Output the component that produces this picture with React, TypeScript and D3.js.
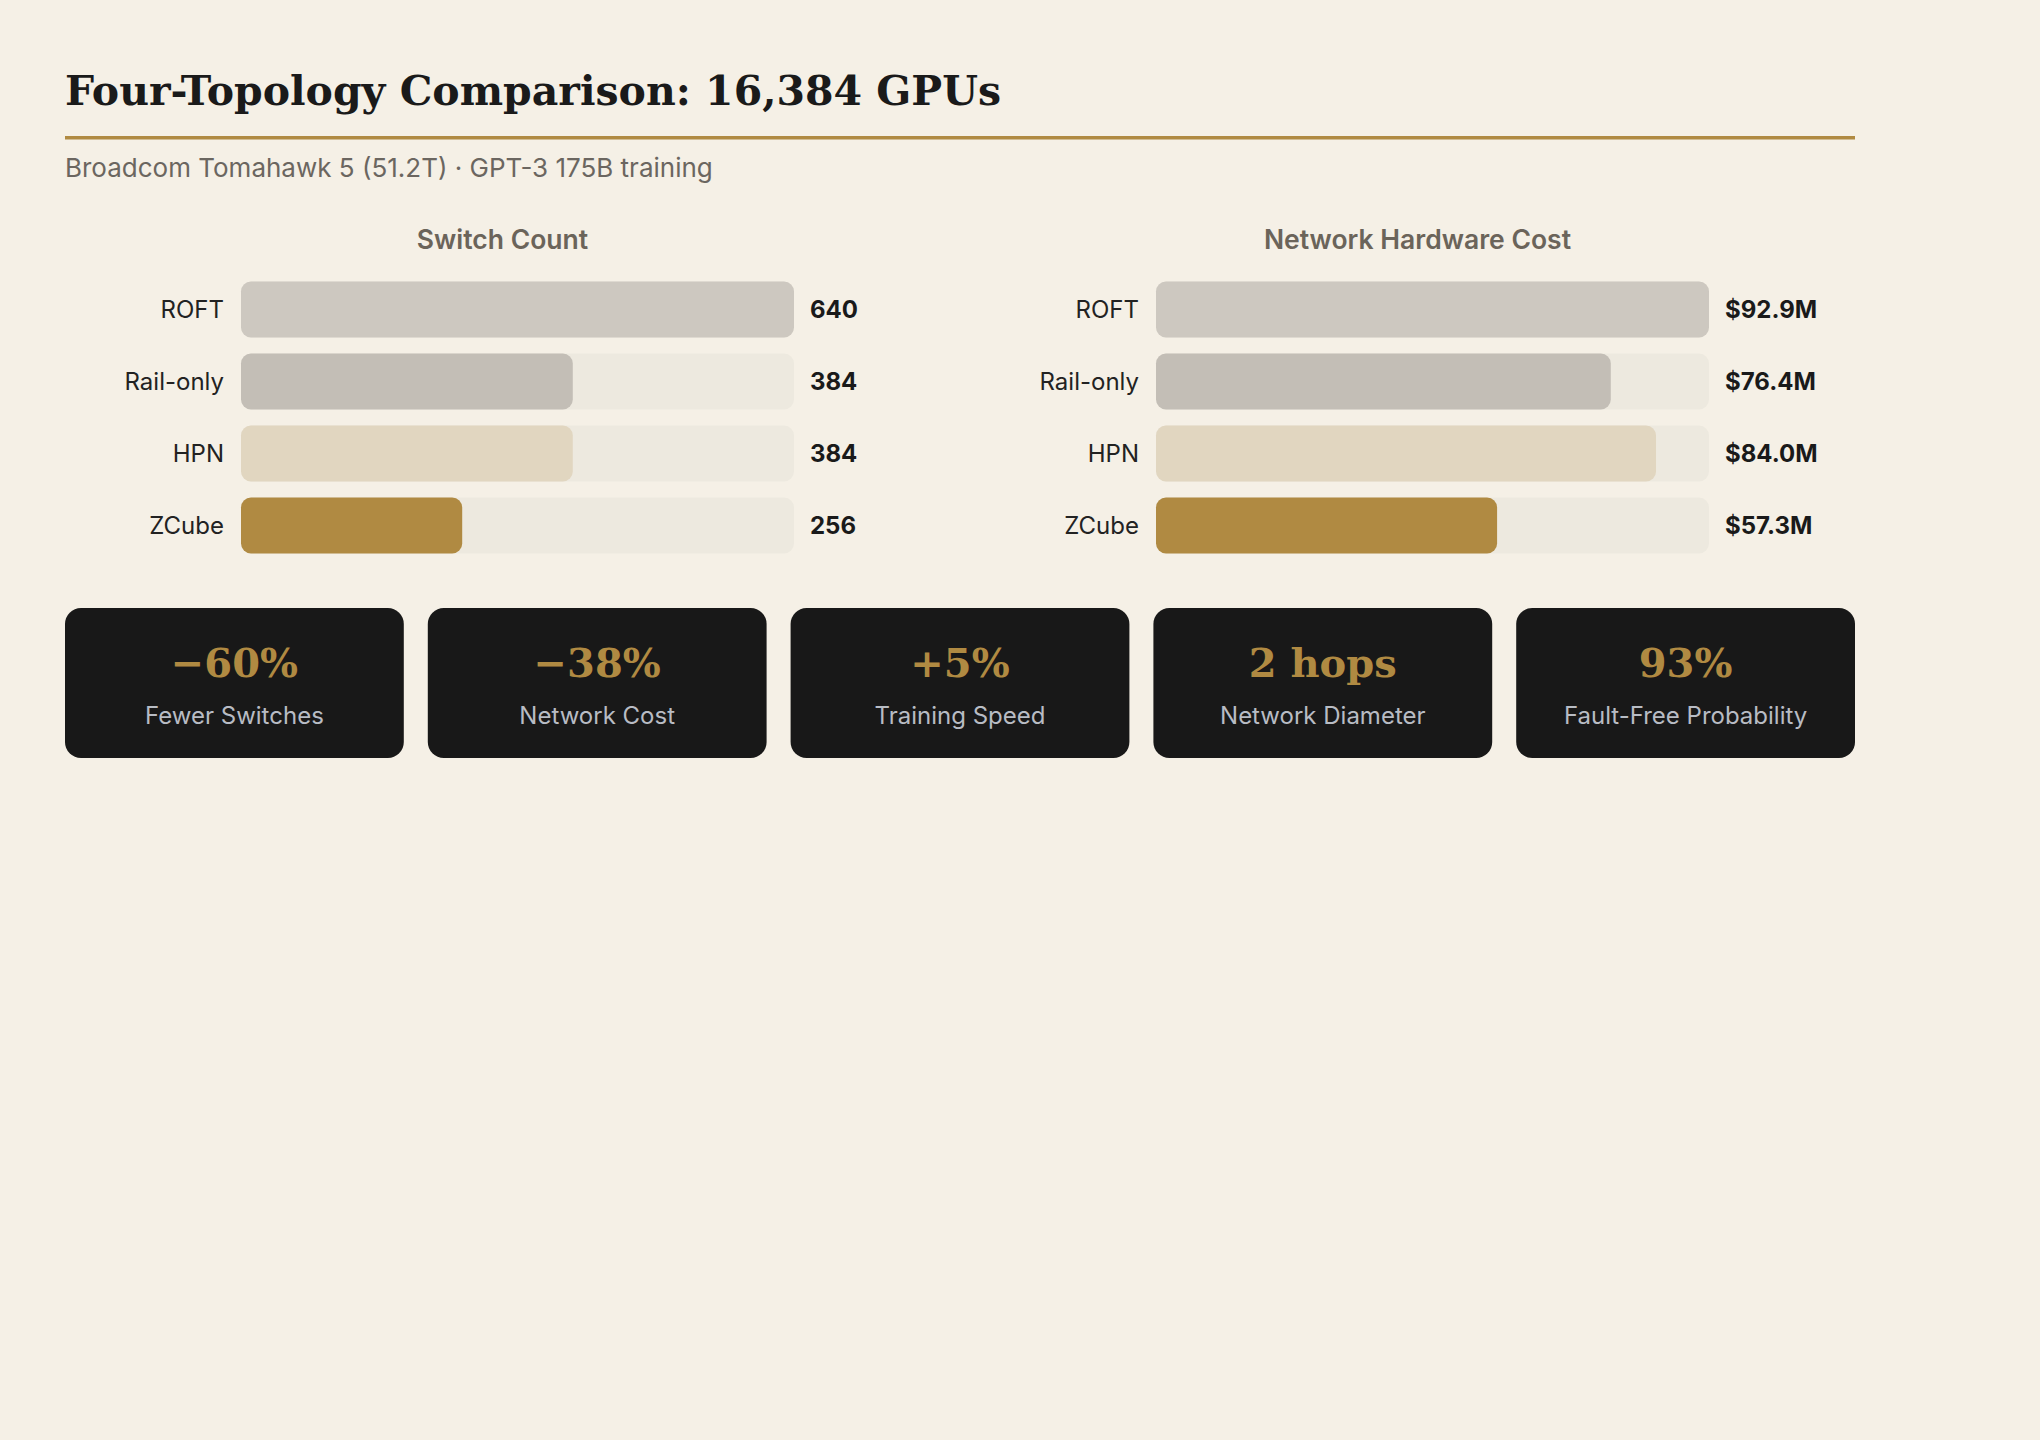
import React, { useEffect } from "react";
import * as d3 from "d3";

const topologies = ["ROFT", "Rail-only", "HPN", "ZCube"];
const switchCounts = [640, 384, 384, 256];
const costMillions = [92.9, 76.4, 84.0, 57.3];
const barColors = ["#cdc8c0", "#c3beb6", "#e1d6c0", "#b08a42"];

const statValues = ["−60%", "−38%", "+5%", "2 hops", "93%"];
const statLabels = [
  "Fewer Switches",
  "Network Cost",
  "Training Speed",
  "Network Diameter",
  "Fault-Free Probability",
];

const W = 2040;
const H = 1440;
const left = 65;
const right = 1855;
const SANS = "Inter, 'Noto Sans', sans-serif";
const SERIF = "'DejaVu Serif', 'Liberation Serif', serif";
const GOLD = "#b08a42";

type PanelProps = {
  x: number;
  title: string;
  values: number[];
  fmt: (v: number) => string;
};

function BarPanel({ x, title, values, fmt }: PanelProps) {
  const colW = 875;
  const trackX0 = x + 176;
  const trackX1 = x + 729;
  const xs = d3
    .scaleLinear()
    .domain([0, d3.max(values) as number])
    .range([trackX0, trackX1]);
  // 56px bars on a 72px pitch
  const ys = d3
    .scaleBand<string>()
    .domain(topologies)
    .range([281.5, 553.5])
    .paddingInner(16 / 72)
    .paddingOuter(0);
  const bh = ys.bandwidth();

  return (
    <g>
      <text
        x={x + colW / 2}
        y={249}
        textAnchor="middle"
        fontFamily={SANS}
        fontWeight={600}
        fontSize={26.5}
        fill="#6b645a"
      >
        {title}
      </text>
      {topologies.map((t, i) => {
        const y = ys(t) as number;
        const cy = y + bh / 2;
        return (
          <g key={t}>
            <text
              x={x + 159}
              y={cy + 8.7}
              textAnchor="end"
              fontFamily={SANS}
              fontSize={24}
              fill="#222"
            >
              {t}
            </text>
            <rect x={trackX0} y={y} width={trackX1 - trackX0} height={bh} rx={10} fill="#ede9df" />
            <rect x={trackX0} y={y} width={xs(values[i]) - trackX0} height={bh} rx={10} fill={barColors[i]} />
            <text
              x={x + 745}
              y={cy + 8.7}
              fontFamily={SANS}
              fontWeight={700}
              fontSize={24}
              fill="#1a1a1a"
            >
              {fmt(values[i])}
            </text>
          </g>
        );
      })}
    </g>
  );
}

export default function App() {
  useEffect(() => {
    document.body.style.margin = "0";
    document.body.style.background = "#f5f0e6";
  }, []);

  const cards = d3
    .scaleBand<number>()
    .domain(d3.range(statValues.length))
    .range([left, right])
    .paddingInner(24 / 362.8);

  return (
    <svg
      width={W}
      height={H}
      style={{ position: "absolute", left: 0, top: 0, display: "block" }}
    >
      <rect width={W} height={H} fill="#f5f0e6" />
      <text x={left} y={104.5} fontFamily={SERIF} fontWeight={700} fontSize={41} fill="#1a1a1a">
        Four-Topology Comparison: 16,384 GPUs
      </text>
      <rect x={left} y={136} width={right - left} height={3.5} fill={GOLD} />
      <text x={left} y={176.5} fontFamily={SANS} fontSize={26} fill="#6b6660">
        Broadcom Tomahawk 5 (51.2T) · GPT-3 175B training
      </text>

      <BarPanel x={65} title="Switch Count" values={switchCounts} fmt={(v) => String(v)} />
      <BarPanel
        x={980}
        title="Network Hardware Cost"
        values={costMillions}
        fmt={(v) => `$${v.toFixed(1)}M`}
      />

      {statValues.map((v, i) => {
        const cx = (cards(i) as number) + cards.bandwidth() / 2;
        return (
          <g key={i}>
            <rect
              x={cards(i)}
              y={608}
              width={cards.bandwidth()}
              height={150}
              rx={16}
              fill="#181818"
            />
            <text
              x={cx}
              y={677}
              textAnchor="middle"
              fontFamily={SERIF}
              fontWeight={700}
              fontSize={40}
              fill={GOLD}
            >
              {v}
            </text>
            <text
              x={cx}
              y={724}
              textAnchor="middle"
              fontFamily={SANS}
              fontSize={24}
              fill="#b8bcc4"
            >
              {statLabels[i]}
            </text>
          </g>
        );
      })}
    </svg>
  );
}
